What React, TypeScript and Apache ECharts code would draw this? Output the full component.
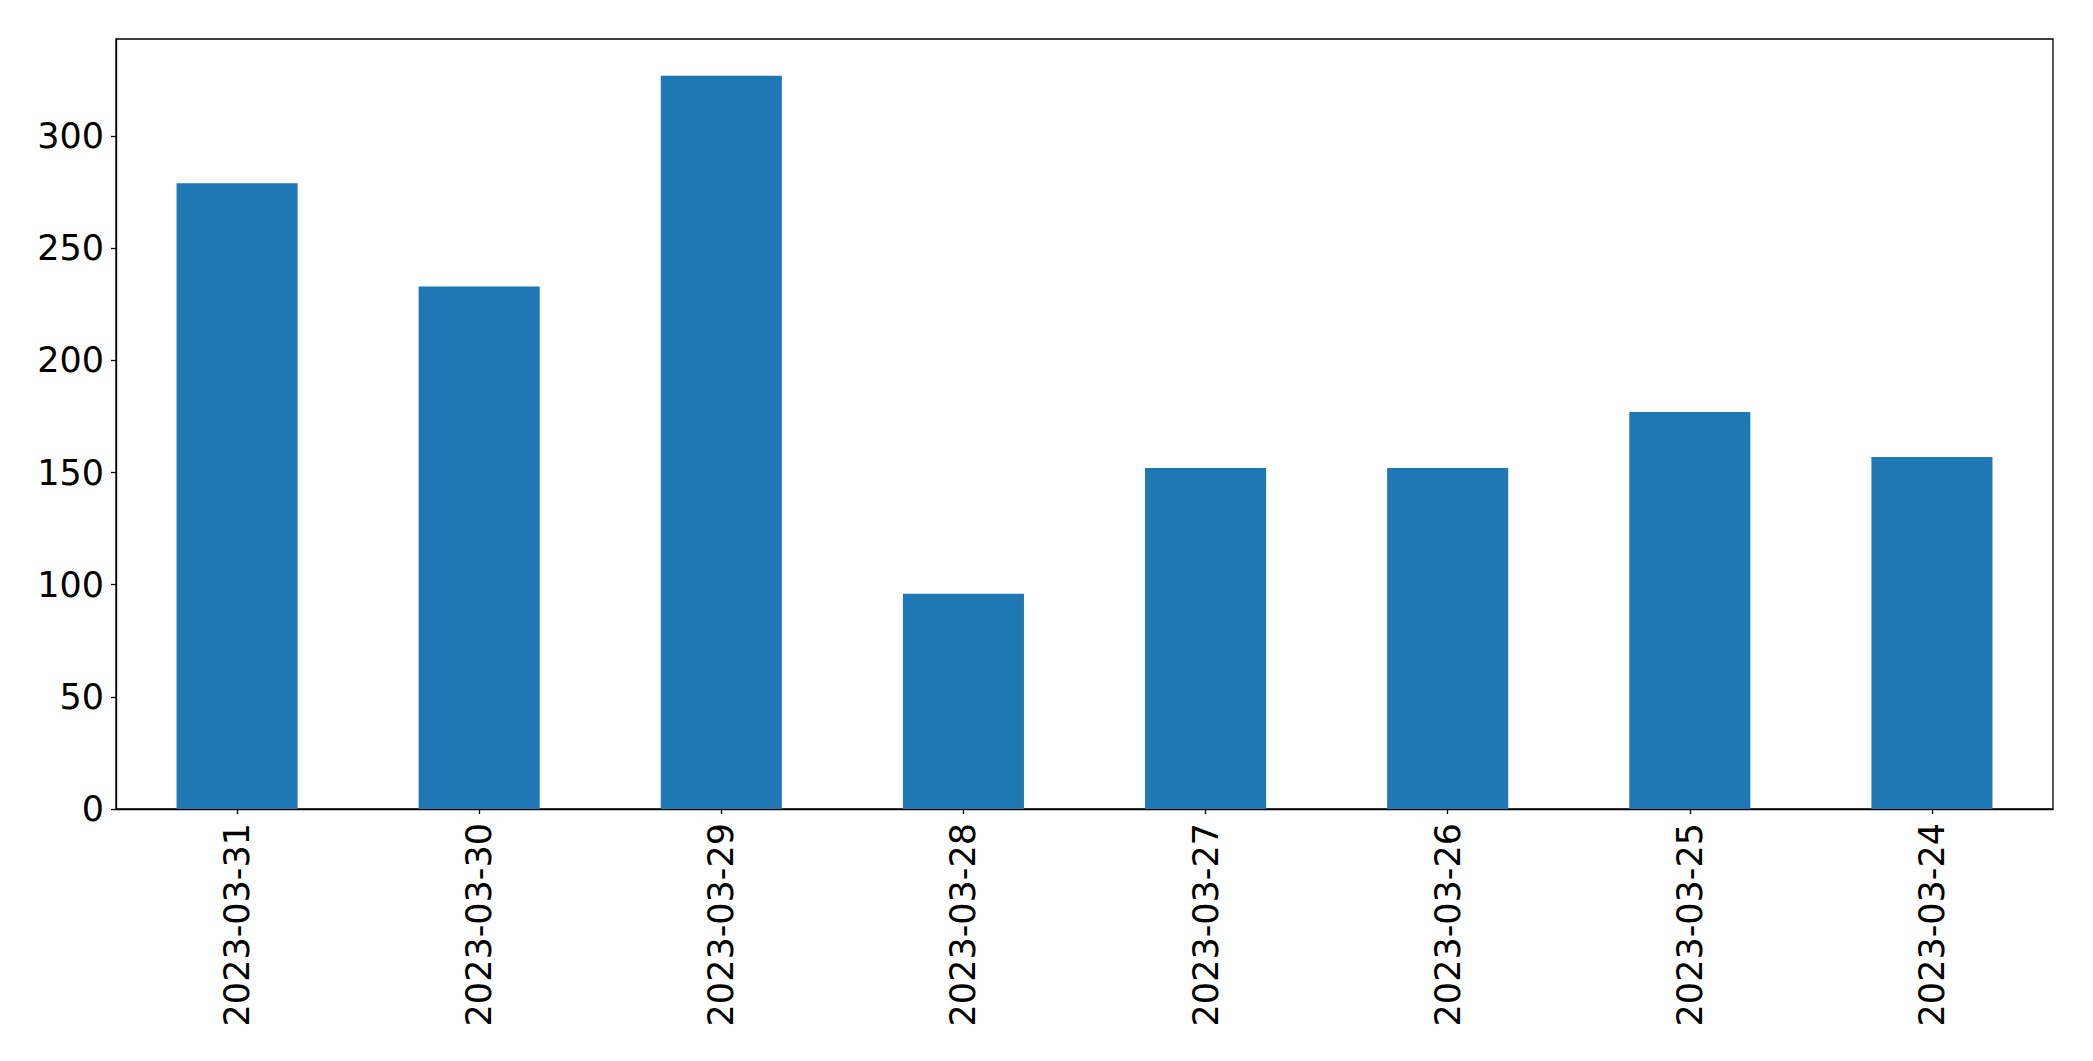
import React, { useEffect, useRef } from 'react';
import * as echarts from 'echarts';

// Data
const dates = [
  '2023-03-31',
  '2023-03-30',
  '2023-03-29',
  '2023-03-28',
  '2023-03-27',
  '2023-03-26',
  '2023-03-25',
  '2023-03-24',
];
const counts = [279, 233, 327, 96, 152, 152, 177, 157];
const yTicks = [0, 50, 100, 150, 200, 250, 300];
const yMax = 343.35;

const FONT = '"DejaVu Sans", sans-serif';

export default function App() {
  const chartRef = useRef<HTMLDivElement>(null);

  useEffect(() => {
    if (!chartRef.current) return;
    const chart = echarts.init(chartRef.current, undefined, { renderer: 'svg' });

    const option: echarts.EChartsOption = {
      animation: false,
      backgroundColor: '#fff',
      grid: {
        left: 116,
        right: 40,
        top: 39,
        bottom: 252,
        show: true,
        borderColor: '#000',
        borderWidth: 1.3,
        backgroundColor: 'transparent',
      },
      xAxis: {
        type: 'category',
        data: dates,
        axisLine: { show: true, lineStyle: { color: '#000', width: 1.3 } },
        axisTick: { show: true, alignWithLabel: true, length: 5, lineStyle: { color: '#000', width: 1.3 } },
        axisLabel: {
          rotate: 90,
          interval: 0,
          margin: 14,
          color: '#000',
          fontSize: 35,
          fontFamily: FONT,
        },
        splitLine: { show: false },
      },
      yAxis: {
        type: 'value',
        min: 0,
        max: yMax,
        axisLine: { show: true, lineStyle: { color: '#000', width: 1.3 } },
        axisTick: {
          show: true,
          length: 5,
          customValues: yTicks,
          lineStyle: { color: '#000', width: 1.3 },
        },
        axisLabel: {
          customValues: yTicks,
          margin: 12,
          color: '#000',
          fontSize: 35,
          fontFamily: FONT,
        },
        splitLine: { show: false },
      },
      series: [
        {
          type: 'bar',
          data: counts,
          barWidth: '50%',
          itemStyle: { color: '#1f77b4' },
        },
      ],
    };

    chart.setOption(option);
    return () => {
      chart.dispose();
    };
  }, []);

  return (
    <div
      ref={chartRef}
      style={{ position: 'absolute', left: 0, top: 0, width: 2093, height: 1061 }}
    />
  );
}
